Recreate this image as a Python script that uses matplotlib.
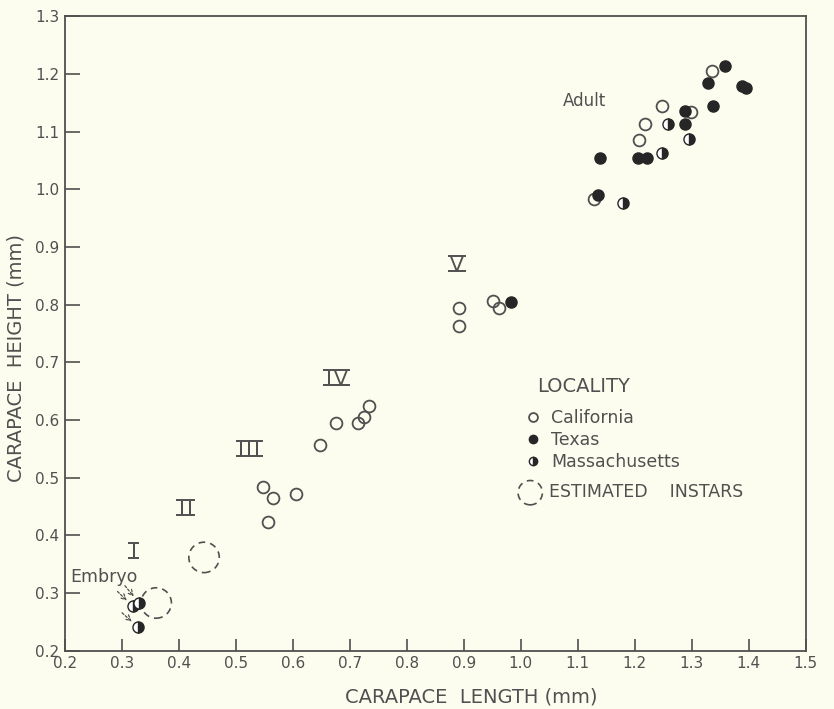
import matplotlib
matplotlib.use("Agg")
import matplotlib.pyplot as plt

# ---- data ----
cal_x = [1.335, 1.247, 1.298, 1.218, 1.207, 1.128, 0.891, 0.891, 0.951, 0.962,
         0.733, 0.725, 0.714, 0.675, 0.647, 0.547, 0.565, 0.556, 0.605]
cal_y = [1.205, 1.144, 1.134, 1.113, 1.085, 0.983, 0.794, 0.763, 0.806, 0.794,
         0.624, 0.605, 0.595, 0.595, 0.557, 0.484, 0.465, 0.423, 0.472]
tex_x = [1.358, 1.328, 1.388, 1.396, 1.337, 1.288, 1.289, 1.205, 1.221, 1.139, 1.135, 0.982]
tex_y = [1.213, 1.184, 1.180, 1.175, 1.144, 1.135, 1.114, 1.055, 1.055, 1.054, 0.991, 0.804]
mass_x = [1.258, 1.296, 1.247, 1.179, 0.319, 0.330, 0.328]
mass_y = [1.114, 1.087, 1.063, 0.976, 0.277, 0.283, 0.241]
est_x = [0.360, 0.444]
est_y = [0.283, 0.362]
instar_labels = ["I", "II", "III", "IV", "V"]
instar_x = [0.321, 0.412, 0.523, 0.677, 0.888]
instar_y = [0.374, 0.449, 0.550, 0.674, 0.872]
embryo_idx = [4, 5, 6]  # Massachusetts points that are embryos
xticks = [0.2, 0.3, 0.4, 0.5, 0.6, 0.7, 0.8, 0.9, 1.0, 1.1, 1.2, 1.3, 1.4, 1.5]
yticks = [0.2, 0.3, 0.4, 0.5, 0.6, 0.7, 0.8, 0.9, 1.0, 1.1, 1.2, 1.3]

BG = "#fdfdef"
INK = "#505050"
DARK = "#262626"

plt.rcParams["font.family"] = ["DejaVu Sans"]
fig = plt.figure(figsize=(8.34, 7.09), dpi=100, facecolor=BG)
ax = fig.add_axes([0.078, 0.082, 0.888, 0.895], facecolor=BG)

ax.set_xlim(0.2, 1.5)
ax.set_ylim(0.2, 1.3)

# estimated instars (dashed circles)
est = ax.scatter(est_x, est_y, s=480, facecolors="none", edgecolors=INK,
                 linewidths=1.2, linestyles=(0, (4, 3)), zorder=2,
                 label="ESTIMATED    INSTARS")

cal, = ax.plot(cal_x, cal_y, "o", ms=8.5, mfc="none", mec=INK, mew=1.3,
               ls="none", zorder=3, label="California")
tex, = ax.plot(tex_x, tex_y, "o", ms=8, mfc=DARK, mec=DARK, mew=1.0,
               ls="none", zorder=4, label="Texas")
mas, = ax.plot(mass_x, mass_y, "o", ms=8, mfc=DARK, mfcalt="white", fillstyle="right",
               mec=DARK, mew=1.0, ls="none", zorder=4, label="Massachusetts")

# Roman numeral instar labels: glyphs sit between two bars
HS = "\u200a"
BAR_PX = 7.5  # half distance between bars, pixels
numeral_texts = []
for lab, x, y in zip(instar_labels, instar_x, instar_y):
    t = ax.annotate(HS.join(lab), (x, y), xytext=(0, -BAR_PX * 72 / fig.dpi),
                    textcoords="offset points", ha="center", va="baseline",
                    fontsize=14.5, color=INK)
    numeral_texts.append(t)

fig.canvas.draw()
renderer = fig.canvas.get_renderer()
inv = ax.transData.inverted()
for t, x, y in zip(numeral_texts, instar_x, instar_y):
    bb = t.get_window_extent(renderer)
    cx, cy = ax.transData.transform((x, y))
    x0, x1 = bb.x0 - 2.5, bb.x1 + 2.5
    for dy in (BAR_PX, -BAR_PX):
        (dx0, dy0) = inv.transform((x0, cy + dy))
        (dx1, _) = inv.transform((x1, cy + dy))
        ax.plot([dx0, dx1], [dy0, dy0], color=INK, lw=1.4, solid_capstyle="butt")

# Embryo annotation with dashed arrows
ax.text(0.268, 0.328, "Embryo", ha="center", va="center", fontsize=12.5, color=INK)
starts = [(0.292, 0.303), (0.305, 0.313), (0.300, 0.266)]
for (sx, sy), i in zip(starts, embryo_idx):
    ax.annotate("", xy=(mass_x[i], mass_y[i]), xytext=(sx, sy),
                arrowprops=dict(arrowstyle="->", color=INK, lw=0.9,
                                linestyle=(0, (2, 1.5)), shrinkA=0, shrinkB=6))

ax.text(1.111, 1.154, "Adult", ha="center", va="center", fontsize=12, color=INK)

# legend
ax.text(0.638, 0.417, "LOCALITY", transform=ax.transAxes, ha="left", va="center",
        fontsize=14, color=INK)
leg1 = ax.legend(handles=[cal, tex, mas], loc="upper left",
                 bbox_to_anchor=(0.608, 0.392), frameon=False, fontsize=12.5,
                 markerscale=0.75, handlelength=1.2,
                 handletextpad=0.45, labelspacing=0.22, borderaxespad=0)
for t in leg1.get_texts():
    t.set_color(INK)
ax.add_artist(leg1)
leg2 = ax.legend(handles=[est], loc="center left",
                 bbox_to_anchor=(0.600, 0.250), frameon=False, fontsize=12.5,
                 markerscale=0.8, handlelength=1.6,
                 handletextpad=0.3, borderaxespad=0)
for t in leg2.get_texts():
    t.set_color(INK)

ax.set_xticks(xticks)
ax.set_yticks(yticks)
ax.set_xticklabels([f"{v:.1f}" for v in xticks])
ax.set_yticklabels([f"{v:.1f}" for v in yticks])
ax.tick_params(direction="in", width=1.2, colors=INK, labelsize=11, pad=4)
ax.tick_params(axis="x", length=9)
ax.tick_params(axis="y", length=11)
for s in ax.spines.values():
    s.set_color(INK)
    s.set_linewidth(1.3)

ax.set_xlabel("CARAPACE  LENGTH (mm)", fontsize=14, color=INK)
ax.xaxis.set_label_coords(0.548, -0.058)
ax.set_ylabel("CARAPACE  HEIGHT (mm)", fontsize=14, color=INK)
ax.yaxis.set_label_coords(-0.053, 0.461)

fig.savefig("out.png", dpi=100, facecolor=BG)
